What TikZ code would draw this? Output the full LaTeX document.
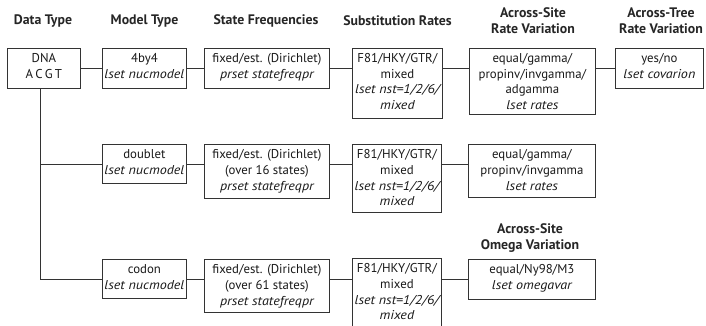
\documentclass[tikz,border=0pt]{standalone}
\usepackage{fontspec}
\setmainfont{PT Sans}[ItalicFeatures={FakeStretch=1.1}]
\newcommand\bx[3]{\parbox[t][#2][t]{#1}{\centering\baselineskip=15.8pt\lineskiplimit=-5pt\rule{0pt}{14pt}#3\par}}
\begin{document}
\begin{tikzpicture}[x=1pt,y=-1pt,
  box/.style={draw=black!80, line width=0.8pt, fill=white, inner sep=0pt, anchor=north west, font=\fontsize{12.8}{15.8}\selectfont, text=black!90},
  hdr/.style={align=center, font=\fontsize{13.8}{16}\selectfont\bfseries, text=black!85},
  conn/.style={draw=black!80, line width=0.8pt}]
\useasboundingbox (0,0) rectangle (706,326);
% headers
\node[hdr] (h1) at (43,21) {Data Type};
\node[hdr] (h2) at (144.5,21) {Model Type};
\node[hdr] (h3) at (266,21) {State Frequencies};
\node[hdr] (h4) at (397.5,21) {Substitution Rates};
\node[hdr] (h5) at (533,21) {Across-Site\\Rate Variation};
\node[hdr] (h6) at (661,21) {Across-Tree\\Rate Variation};
\node[hdr] (h7) at (530,238) {Across-Site\\Omega Variation};
% row 1
\node[box] (dna) at (7,48) {\bx{73pt}{40pt}{DNA\\{\spaceskip=2.2pt A C G T}}};
\node[box] (m1) at (102,48) {\bx{84pt}{40pt}{4by4\\\itshape lset nucmodel}};
\node[box] (f1) at (204,48) {\bx{125pt}{40pt}{fixed/est. (Dirichlet)\\\itshape prset statefreqpr}};
\node[box] (s1) at (352,48) {\bx{90pt}{70pt}{F81/HKY/GTR/\\mixed\\\itshape lset nst=1/2/6/\\\itshape mixed}};
\node[box] (a1) at (469,48) {\bx{126pt}{66pt}{equal/gamma/\\propinv/invgamma/\\adgamma\\\itshape lset rates}};
\node[box] (t1) at (615,48) {\bx{88pt}{40pt}{yes/no\\\itshape lset covarion}};
% row 2
\node[box] (m2) at (102,144) {\bx{84pt}{39pt}{doublet\\\itshape lset nucmodel}};
\node[box] (f2) at (204,144) {\bx{125pt}{54pt}{fixed/est. (Dirichlet)\\(over 16 states)\\\itshape prset statefreqpr}};
\node[box] (s2) at (352,144) {\bx{89pt}{68pt}{F81/HKY/GTR/\\mixed\\\itshape lset nst=1/2/6/\\\itshape mixed}};
\node[box] (a2) at (468,144) {\bx{127pt}{53pt}{equal/gamma/\\propinv/invgamma\\\itshape lset rates}};
% row 3
\node[box] (m3) at (102,259) {\bx{84pt}{39pt}{codon\\\itshape lset nucmodel}};
\node[box] (f3) at (204,259) {\bx{125pt}{53pt}{fixed/est. (Dirichlet)\\(over 61 states)\\\itshape prset statefreqpr}};
\node[box] (s3) at (352,258) {\bx{89pt}{72pt}{F81/HKY/GTR/\\mixed\\\itshape lset nst=1/2/6/\\\itshape mixed}};
\node[box] (o3) at (468,259) {\bx{127pt}{40pt}{equal/Ny98/M3\\\itshape lset omegavar}};
% connectors
\coordinate (trunk) at ([xshift=-3.5pt]dna.south);
\draw[conn] (dna.east) -- (m1.west);
\draw[conn] (m1.east) -- (f1.west);
\draw[conn] (f1.east) -- (f1.east -| s1.west);
\draw[conn] (f1.east -| s1.east) -- (f1.east -| a1.west);
\draw[conn] (f1.east -| a1.east) -- (t1.west);
\draw[conn] (trunk) |- (m2.west);
\draw[conn] (trunk) |- (m3.west);
\draw[conn] (m2.east) -- (f2.west |- m2.east);
\draw[conn] (f2.east |- m2.east) -- (s2.west |- m2.east);
\draw[conn] (s2.east |- m2.east) -- (a2.west |- m2.east);
\draw[conn] (m3.east) -- (f3.west |- m3.east);
\draw[conn] (f3.east |- m3.east) -- (s3.west |- m3.east);
\draw[conn] (s3.east |- m3.east) -- (o3.west |- m3.east);
\end{tikzpicture}
\end{document}
